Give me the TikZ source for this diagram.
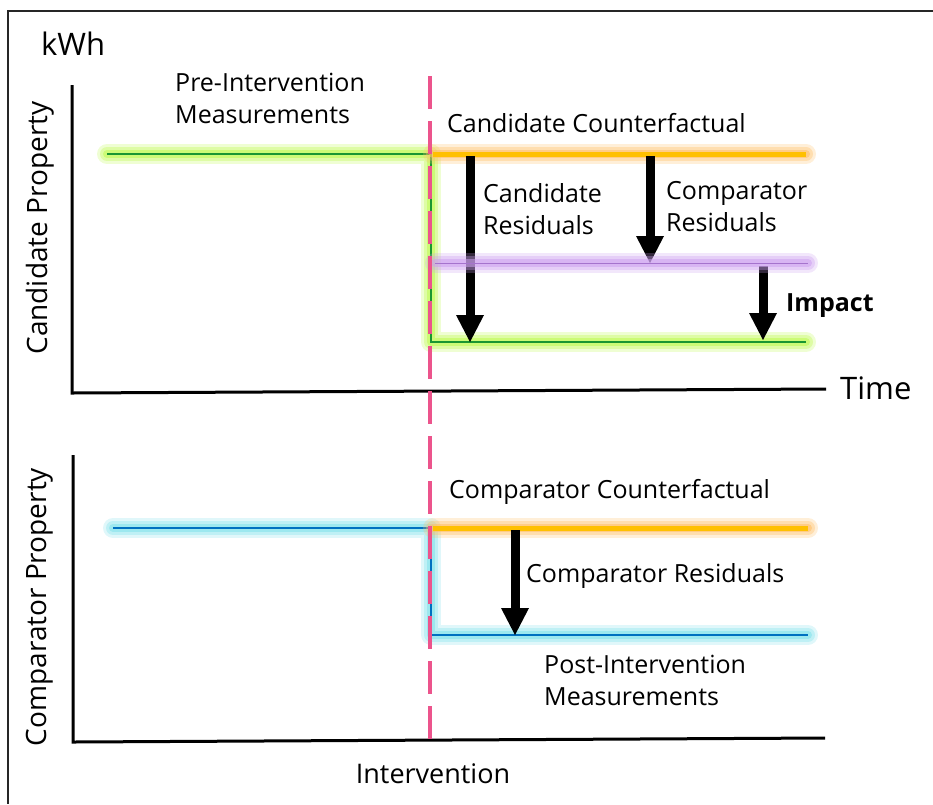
\documentclass[tikz,border=0pt]{standalone}
\usepackage{fontspec}
\setmainfont{Open Sans}
\usetikzlibrary{arrows.meta}
\definecolor{pinkline}{RGB}{236,84,140}
\definecolor{greenline}{RGB}{25,150,50}
\definecolor{greenglow}{RGB}{190,250,80}
\definecolor{orangeline}{RGB}{255,192,0}
\definecolor{orangeglow}{RGB}{255,190,100}
\definecolor{purpleline}{RGB}{165,115,205}
\definecolor{purpleglow}{RGB}{205,160,240}
\definecolor{blueline}{RGB}{0,112,192}
\definecolor{blueglow}{RGB}{130,225,235}
\begin{document}
\begin{tikzpicture}[x=1pt,y=-1pt,
  glow/.style={
    preaction={draw=#1,draw opacity=0.25,line width=20pt,line cap=round,line join=round},
    preaction={draw=#1,draw opacity=0.35,line width=14pt,line cap=round,line join=round},
    preaction={draw=#1,draw opacity=0.55,line width=8pt,line cap=round,line join=round}},
  axisline/.style={line width=3pt,line join=miter},
  bigarrow/.style={line width=9pt,-{Triangle[width=28pt,length=27pt,line width=0pt]}},
  lbl/.style={inner sep=0pt,font=\fontsize{25}{32}\selectfont,align=left},
  biglbl/.style={inner sep=0pt,font=\fontsize{31}{36}\selectfont},
  sidelbl/.style={inner sep=0pt,font=\fontsize{28}{32}\selectfont,rotate=90}]
\useasboundingbox (0,0) rectangle (933,804);
% frame
\coordinate (fTR) at (933,11); \coordinate (fTL) at (8,11); \coordinate (fBL) at (8,804);
\draw[line width=2pt,black!85] (fTR) -- (fTL) -- (fBL);

% axes
\coordinate (a1T) at (72,85); \coordinate (a1O) at (72,393); \coordinate (a1R) at (826,389);
\draw[axisline] (a1T) -- (a1O) -- (a1R);
\coordinate (a2T) at (73,455); \coordinate (a2O) at (73,742); \coordinate (a2R) at (825,738);
\draw[axisline] (a2T) -- (a2O) -- (a2R);

% top panel lines
\coordinate (g1) at (107,154); \coordinate (g2) at (431,154); \coordinate (g3) at (431,342); \coordinate (g4) at (806,342);
\coordinate (o1) at (433,154); \coordinate (o2) at (806,154);
\draw[glow=greenglow,line width=2pt,greenline] (g1) -- (g2) -- (g3) -- (g4);
\draw[glow=orangeglow,line width=5pt,orangeline] (o1) -- (o2);

% bottom panel lines
\coordinate (b1) at (113,528); \coordinate (b2) at (431,528); \coordinate (b3) at (431,635); \coordinate (b4) at (808,635);
\coordinate (p1) at (433,528); \coordinate (p2) at (808,528);
\draw[glow=blueglow,line width=2pt,blueline] (b1) -- (b2) -- (b3) -- (b4);
\draw[glow=orangeglow,line width=5pt,orangeline] (p1) -- (p2);

% arrows
\coordinate (caT) at (470,156); \coordinate (caB) at (470,342);
\coordinate (crT) at (650,156); \coordinate (crB) at (650,263);
\coordinate (imT) at (763,266); \coordinate (imB) at (763,340);
\coordinate (brT) at (515,530); \coordinate (brB) at (515,635);
\draw[bigarrow] (caT) -- (caB);
\draw[bigarrow] (crT) -- (crB);
\draw[bigarrow] (imT) -- (imB);
\draw[bigarrow] (brT) -- (brB);

% purple line (drawn over arrows)
\coordinate (u1) at (435,263); \coordinate (u2) at (808,263);
\draw[glow=purpleglow,line width=1pt,purpleline] (u1) -- (u2);

% intervention line
\coordinate (iT) at (430,76); \coordinate (iB) at (430,745);
\draw[pinkline,line width=3.5pt,dash pattern=on 33pt off 12pt] (iT) -- (iB);

% labels
\node[biglbl,anchor=base west] (kwh) at (41,55) {kWh};
\node[biglbl,anchor=base west] (time) at (840,399) {Time};
\node[sidelbl] (candprop) at (40,228) {Candidate Property};
\node[sidelbl] (compprop) at (40,607) {Comparator Property};
\node[lbl,anchor=base west] (pre) at (175,123) {Pre-Intervention\\Measurements};
\node[lbl,anchor=base west] (ccf) at (447,132) {Candidate Counterfactual};
\node[lbl,anchor=base west] (cres) at (483,234) {Candidate\\Residuals};
\node[lbl,anchor=base west] (crres) at (666,231) {Comparator\\Residuals};
\node[lbl,anchor=base west,font=\fontsize{25}{32}\selectfont\bfseries] (imp) at (786,311) {Impact};
\node[lbl,anchor=base west] (pcf) at (449,498) {Comparator Counterfactual};
\node[lbl,anchor=base west] (pres) at (526,582) {Comparator Residuals};
\node[lbl,anchor=base west] (post) at (544,705) {Post-Intervention\\Measurements};
\node[inner sep=0pt,font=\fontsize{27}{32}\selectfont,anchor=base] (interv) at (433,783) {Intervention};
\end{tikzpicture}
\end{document}
